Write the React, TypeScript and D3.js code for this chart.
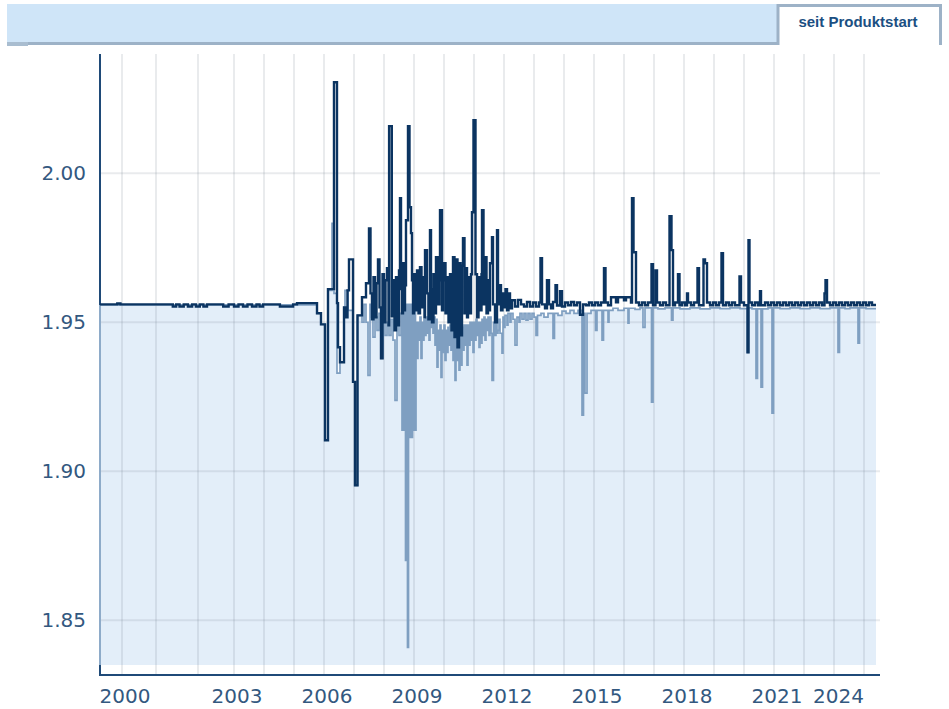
import React from 'react';
import * as d3 from 'd3';

// observations per calendar year (ordinal axis: equal spacing per observation)
// 1999 (from start), 2000 ... 2023, 2024 (until end)
const seriesStart = 1999.3;
const seriesEnd = 2024.4;
const obsPerYear = [
  187, 289, 357, 306,
  255, 255, 255, 255, 255, 255, 255, 255, 255, 255, 255,
  255, 255, 255, 255, 255, 255, 255, 255, 255, 255,
  102,
];

const yTicks = [1.85, 1.9, 1.95, 2.0];
const gridYears = [2000, 2001, 2002, 2003, 2004, 2005, 2006, 2007, 2008, 2009, 2010, 2011, 2012,
  2013, 2014, 2015, 2016, 2017, 2018, 2019, 2020, 2021, 2022, 2023, 2024];
const labelYears = [2000, 2003, 2006, 2009, 2012, 2015, 2018, 2021, 2024];

// upper (dark) series, [decimal year, value]
const upperSeries: [number, number][] = [
  [1999.3, 1.956], [1999.85, 1.9563], [1999.95, 1.956],
  [2001.4, 1.9553], [2001.48, 1.956], [2001.56, 1.9553], [2001.66, 1.956], [2001.76, 1.9553],
  [2001.86, 1.956], [2001.95, 1.9553], [2002.05, 1.956], [2002.15, 1.9553], [2002.25, 1.956],
  [2002.7, 1.9553], [2002.85, 1.956], [2003.0, 1.9553], [2003.15, 1.956], [2003.3, 1.9553],
  [2003.45, 1.956], [2003.6, 1.9553], [2003.75, 1.956], [2003.85, 1.9553], [2003.97, 1.956],
  [2004.53, 1.9553], [2004.97, 1.956], [2005.1, 1.9564],
  [2005.767, 1.953], [2005.9, 1.9493], [2006.033, 1.9104], [2006.133, 1.9611],
  [2006.333, 2.0305], [2006.433, 1.9564], [2006.467, 1.9416], [2006.533, 1.9366],
  [2006.667, 1.955], [2006.733, 1.9517], [2006.783, 1.9607], [2006.833, 1.9711],
  [2006.967, 1.93], [2007.033, 1.8953], [2007.117, 1.9523], [2007.267, 1.9584],
  [2007.4, 1.9631], [2007.5, 1.9815],
  [2007.55, 1.9597], [2007.6, 1.951], [2007.65, 1.9651], [2007.7, 1.9517], [2007.75, 1.9631],
  [2007.8, 1.9711], [2007.85, 1.955], [2007.9, 1.9379], [2007.95, 1.9661], [2008.0, 1.95],
  [2008.05, 1.9641], [2008.1, 1.9681], [2008.15, 1.949], [2008.17, 2.0158], [2008.26, 1.952],
  [2008.3, 1.9641], [2008.35, 1.9473], [2008.4, 1.9651], [2008.45, 1.949], [2008.5, 1.9674],
  [2008.533, 1.9916], [2008.567, 1.9611], [2008.6, 1.953], [2008.633, 1.9698], [2008.667, 1.954],
  [2008.7, 1.9624], [2008.733, 1.9842], [2008.8, 2.0158], [2008.85, 1.9886], [2008.9, 1.9799],
  [2008.933, 1.9641], [2008.967, 1.953], [2009.0, 1.9661], [2009.05, 1.954], [2009.1, 1.9674],
  [2009.15, 1.953], [2009.2, 1.9685], [2009.25, 1.955], [2009.3, 1.9651], [2009.35, 1.9517],
  [2009.367, 1.9742], [2009.433, 1.9597], [2009.48, 1.951], [2009.533, 1.9809], [2009.567, 1.9611],
  [2009.6, 1.95], [2009.65, 1.9661], [2009.7, 1.953], [2009.733, 1.9718], [2009.8, 1.956],
  [2009.85, 1.9641], [2009.867, 1.9876], [2009.933, 1.954], [2009.967, 1.9641], [2010.0, 1.9698],
  [2010.05, 1.953], [2010.1, 1.9651], [2010.15, 1.95], [2010.2, 1.9661], [2010.25, 1.9473],
  [2010.3, 1.9718], [2010.35, 1.945], [2010.4, 1.9711], [2010.45, 1.9416], [2010.5, 1.9698],
  [2010.55, 1.9456], [2010.6, 1.969], [2010.633, 1.9782], [2010.683, 1.953], [2010.717, 1.9681],
  [2010.767, 1.9517], [2010.8, 1.9651], [2010.85, 1.953], [2010.9, 1.9661], [2010.933, 1.9869],
  [2010.983, 2.0178], [2011.05, 1.9661], [2011.1, 1.9517], [2011.15, 1.9651], [2011.2, 1.954],
  [2011.25, 1.9661], [2011.267, 1.9876], [2011.317, 1.956], [2011.367, 1.9718], [2011.417, 1.953],
  [2011.467, 1.9641], [2011.5, 1.954], [2011.533, 1.9698], [2011.6, 1.9785], [2011.633, 1.956],
  [2011.7, 1.95], [2011.767, 1.9809], [2011.8, 1.956], [2011.85, 1.9624], [2011.9, 1.954],
  [2011.95, 1.9597], [2012.0, 1.955], [2012.05, 1.9611], [2012.1, 1.954], [2012.15, 1.9597],
  [2012.2, 1.9547], [2012.267, 1.9574], [2012.367, 1.9553], [2012.467, 1.9575], [2012.567, 1.956],
  [2012.667, 1.9553], [2012.767, 1.9568], [2012.867, 1.9553], [2012.967, 1.9566], [2013.067, 1.9553],
  [2013.167, 1.9566], [2013.217, 1.9715], [2013.267, 1.956], [2013.367, 1.9547], [2013.433, 1.9641],
  [2013.5, 1.956], [2013.567, 1.9547], [2013.633, 1.9568], [2013.717, 1.9624], [2013.767, 1.9556],
  [2013.867, 1.9604], [2013.933, 1.9553], [2014.033, 1.9566], [2014.133, 1.9557], [2014.233, 1.9568],
  [2014.333, 1.9557], [2014.433, 1.9566], [2014.533, 1.9525], [2014.633, 1.956], [2014.733, 1.9557],
  [2014.833, 1.9566], [2014.933, 1.9557], [2015.033, 1.9566], [2015.133, 1.9557], [2015.233, 1.9566],
  [2015.333, 1.9681], [2015.383, 1.9566], [2015.467, 1.9557], [2015.567, 1.9584], [2015.733, 1.9567],
  [2015.8, 1.9584], [2016.0, 1.9574], [2016.067, 1.9584], [2016.233, 1.9566], [2016.267, 1.9916],
  [2016.317, 1.9735], [2016.4, 1.9566], [2016.5, 1.9557], [2016.6, 1.9566], [2016.7, 1.9557],
  [2016.8, 1.9566], [2016.917, 1.9695], [2016.967, 1.9557], [2017.05, 1.9674], [2017.1, 1.9566],
  [2017.2, 1.9557], [2017.3, 1.9566], [2017.4, 1.9557], [2017.517, 1.9856], [2017.583, 1.9742],
  [2017.633, 1.9557], [2017.7, 1.9566], [2017.8, 1.9661], [2017.85, 1.9557], [2017.933, 1.9566],
  [2018.033, 1.9557], [2018.1, 1.9597], [2018.133, 1.9566], [2018.233, 1.9557], [2018.333, 1.9566],
  [2018.45, 1.9681], [2018.5, 1.9557], [2018.65, 1.9711], [2018.7, 1.9698], [2018.767, 1.9566],
  [2018.867, 1.9557], [2018.967, 1.9566], [2019.067, 1.9557], [2019.167, 1.9566], [2019.25, 1.9732],
  [2019.3, 1.9557], [2019.4, 1.9566], [2019.5, 1.9557], [2019.6, 1.9566], [2019.7, 1.9557],
  [2019.85, 1.9654], [2019.9, 1.9566], [2020.0, 1.9557], [2020.117, 1.9399], [2020.15, 1.9775],
  [2020.183, 1.9566], [2020.267, 1.9557], [2020.367, 1.9566], [2020.467, 1.9557], [2020.533, 1.9604],
  [2020.567, 1.9557], [2020.7, 1.9566], [2020.8, 1.9557], [2020.9, 1.9566], [2021.0, 1.9557],
  [2021.1, 1.9566], [2021.2, 1.9557], [2021.3, 1.9566], [2021.4, 1.9557], [2021.5, 1.9566],
  [2021.6, 1.9557], [2021.7, 1.9566], [2021.8, 1.9557], [2021.9, 1.9566], [2022.0, 1.9557],
  [2022.1, 1.9566], [2022.2, 1.9557], [2022.3, 1.9566], [2022.4, 1.9557], [2022.5, 1.9566],
  [2022.6, 1.9557], [2022.683, 1.9597], [2022.717, 1.9641], [2022.767, 1.9566], [2022.867, 1.9557],
  [2022.967, 1.9566], [2023.067, 1.9557], [2023.167, 1.9566], [2023.267, 1.9557], [2023.367, 1.9566],
  [2023.467, 1.9557], [2023.567, 1.9566], [2023.667, 1.9557], [2023.767, 1.9566], [2023.867, 1.9557],
  [2023.967, 1.9566], [2024.067, 1.9557], [2024.167, 1.9566], [2024.267, 1.9558], [2024.4, 1.9558],
];

// lower (light) series, [decimal year, value]
const lowerSeries: [number, number][] = [
  [1999.3, 1.9558], [2005.767, 1.953], [2005.9, 1.9493], [2006.033, 1.9104],
  [2006.133, 1.9607], [2006.267, 1.9832], [2006.333, 1.9597], [2006.433, 1.9329],
  [2006.533, 1.9366], [2006.667, 1.955], [2006.7, 1.9607], [2006.8, 1.954],
  [2006.967, 1.93], [2007.033, 1.8953], [2007.117, 1.9523], [2007.267, 1.95],
  [2007.333, 1.956], [2007.4, 1.95], [2007.467, 1.9322], [2007.533, 1.956], [2007.567, 1.9517],
  [2007.633, 1.945], [2007.7, 1.9517], [2007.767, 1.9473], [2007.833, 1.953], [2007.9, 1.9379],
  [2007.967, 1.95], [2008.033, 1.9456], [2008.1, 1.95], [2008.167, 1.9456], [2008.233, 1.951],
  [2008.3, 1.944], [2008.367, 1.9238], [2008.433, 1.95], [2008.5, 1.9456], [2008.567, 1.953],
  [2008.6, 1.9138], [2008.633, 1.956], [2008.667, 1.9138], [2008.7, 1.956], [2008.717, 1.8701],
  [2008.75, 1.956], [2008.783, 1.8409], [2008.817, 1.956], [2008.85, 1.9114], [2008.883, 1.956],
  [2008.917, 1.9114], [2008.95, 1.956], [2008.983, 1.9138], [2009.017, 1.956], [2009.05, 1.9138],
  [2009.067, 1.95], [2009.1, 1.9379], [2009.133, 1.95], [2009.167, 1.944], [2009.2, 1.9517],
  [2009.233, 1.9379], [2009.267, 1.95], [2009.3, 1.944], [2009.333, 1.951], [2009.367, 1.9456],
  [2009.4, 1.9517], [2009.433, 1.9463], [2009.467, 1.951], [2009.5, 1.944], [2009.533, 1.953],
  [2009.567, 1.9483], [2009.6, 1.953], [2009.633, 1.9463], [2009.667, 1.9517], [2009.7, 1.9423],
  [2009.733, 1.951], [2009.767, 1.9349], [2009.8, 1.9473], [2009.833, 1.9406], [2009.867, 1.949],
  [2009.9, 1.9315], [2009.933, 1.9473], [2009.967, 1.9399], [2010.0, 1.949], [2010.033, 1.9372],
  [2010.067, 1.9473], [2010.1, 1.9399], [2010.133, 1.9483], [2010.167, 1.9423], [2010.2, 1.949],
  [2010.233, 1.9406], [2010.267, 1.9483], [2010.3, 1.9372], [2010.333, 1.9473], [2010.367, 1.9305],
  [2010.4, 1.9463], [2010.433, 1.9372], [2010.467, 1.9483], [2010.5, 1.9339], [2010.533, 1.9473],
  [2010.567, 1.9356], [2010.6, 1.9483], [2010.633, 1.9406], [2010.667, 1.949], [2010.7, 1.9423],
  [2010.733, 1.949], [2010.767, 1.9356], [2010.8, 1.949], [2010.833, 1.9423], [2010.867, 1.95],
  [2010.9, 1.944], [2010.933, 1.95], [2010.967, 1.9399], [2011.0, 1.95], [2011.033, 1.944],
  [2011.067, 1.951], [2011.1, 1.9456], [2011.133, 1.95], [2011.167, 1.9416], [2011.2, 1.95],
  [2011.233, 1.943], [2011.267, 1.951], [2011.3, 1.9456], [2011.333, 1.9517], [2011.367, 1.944],
  [2011.4, 1.951], [2011.433, 1.9473], [2011.467, 1.9517], [2011.5, 1.9456], [2011.533, 1.9517],
  [2011.567, 1.9463], [2011.6, 1.9305], [2011.65, 1.95], [2011.7, 1.9456], [2011.733, 1.951],
  [2011.767, 1.9463], [2011.8, 1.9473], [2011.833, 1.951], [2011.867, 1.9463], [2011.933, 1.9396],
  [2011.967, 1.9517], [2012.0, 1.9483], [2012.033, 1.9523], [2012.1, 1.949], [2012.133, 1.953],
  [2012.2, 1.95], [2012.233, 1.953], [2012.3, 1.951], [2012.367, 1.9423], [2012.433, 1.9517],
  [2012.5, 1.95], [2012.533, 1.953], [2012.6, 1.951], [2012.667, 1.953], [2012.733, 1.9507],
  [2012.8, 1.953], [2012.867, 1.951], [2012.933, 1.953], [2013.0, 1.9517],
  [2013.067, 1.9456], [2013.117, 1.9523], [2013.233, 1.953], [2013.333, 1.9517], [2013.467, 1.953],
  [2013.633, 1.9446], [2013.683, 1.953], [2013.8, 1.9523], [2013.933, 1.9537], [2014.067, 1.953],
  [2014.2, 1.954], [2014.333, 1.953], [2014.467, 1.954], [2014.6, 1.9188], [2014.65, 1.953],
  [2014.7, 1.9262], [2014.767, 1.953], [2014.9, 1.954], [2015.05, 1.9473], [2015.1, 1.954],
  [2015.267, 1.944], [2015.317, 1.954], [2015.467, 1.95], [2015.5, 1.954], [2015.633, 1.9547],
  [2015.8, 1.954], [2016.0, 1.9547], [2016.133, 1.9497], [2016.167, 1.9547], [2016.367, 1.9543],
  [2016.533, 1.9548], [2016.633, 1.9483], [2016.7, 1.9548], [2016.917, 1.9232], [2016.967, 1.9548],
  [2017.133, 1.9545], [2017.367, 1.9548], [2017.583, 1.9507], [2017.633, 1.9548], [2017.867, 1.9545],
  [2018.2, 1.9548], [2018.533, 1.9545], [2018.867, 1.9548], [2019.2, 1.9546], [2019.533, 1.9548],
  [2019.867, 1.9546], [2020.117, 1.9399], [2020.15, 1.9548], [2020.267, 1.9545], [2020.4, 1.9312],
  [2020.45, 1.9545], [2020.567, 1.9282], [2020.617, 1.9545], [2020.8, 1.9548], [2020.933, 1.9195],
  [2020.983, 1.9548], [2021.2, 1.9546], [2021.533, 1.9548], [2021.867, 1.9546], [2022.2, 1.9548],
  [2022.533, 1.9546], [2022.867, 1.9548], [2023.133, 1.9399], [2023.183, 1.9548], [2023.367, 1.9546],
  [2023.533, 1.9548], [2023.8, 1.943], [2023.85, 1.9548], [2024.067, 1.9546], [2024.4, 1.9546],
];

const App = () => {
  const width = 949;
  const height = 709;
  const plot = { left: 100, right: 876, top: 54, base: 665, axis: 675, gridRight: 880 };
  const yMin = 1.835;
  const yMax = 2.04;

  // polylinear scale: each observation gets the same width
  const bounds = [seriesStart, ...gridYears, seriesEnd];
  let acc = 0;
  const cum = [0, ...obsPerYear.map(n => (acc += n))];
  const x = d3.scaleLinear()
    .domain(bounds)
    .range(cum.map(c => plot.left + (c / acc) * (plot.right - plot.left)));

  const y = d3.scaleLinear().domain([yMin, yMax]).range([plot.base, plot.top]);

  const line = d3.line<[number, number]>()
    .x(d => x(d[0]))
    .y(d => y(d[1]))
    .curve(d3.curveStepAfter);

  const area = d3.area<[number, number]>()
    .x(d => x(d[0]))
    .y0(y(yMin))
    .y1(d => y(d[1]))
    .curve(d3.curveStepAfter);

  const navy = '#0b3461';
  const axisCol = '#1f4a78';
  const labelCol = '#33587f';
  const gridCol = 'rgba(110,120,135,0.15)';
  const font = '"DejaVu Sans", Verdana, sans-serif';

  return (
    <div style={{ position: 'absolute', left: 0, top: 0 }}>
      <svg width={width} height={height} style={{ display: 'block', background: '#fff' }}>
        {/* top bar with tab */}
        <rect x={7} y={4} width={770} height={38} fill="#cfe5f8" />
        <rect x={7} y={42} width={770} height={3} fill="#9db2c7" />
        <rect x={7} y={42} width={21} height={4} fill="#a9bdd0" />
        <path d="M778,45 V5.5 H940.5 V45" fill="#fff" stroke="#9db2c7" strokeWidth={3} />
        <text x={858} y={27} textAnchor="middle" fontFamily='"Liberation Sans", Arial, sans-serif'
          fontWeight="bold" fontSize={15} fill="#1b4f82">seit Produktstart</text>

        {/* axes */}
        <line x1={plot.left} x2={plot.left} y1={plot.top} y2={plot.axis + 1} stroke={axisCol} strokeWidth={2} />
        <line x1={plot.left - 1} x2={plot.gridRight} y1={plot.axis} y2={plot.axis} stroke={axisCol} strokeWidth={2} />

        {/* area under the lower series */}
        <path d={area(lowerSeries) || ''} fill="#e3eef9" />

        {/* grid */}
        {gridYears.map(yr => (
          <line key={'gx' + yr} x1={x(yr)} x2={x(yr)} y1={plot.top} y2={plot.axis - 1}
            stroke={gridCol} strokeWidth={2} />
        ))}
        {yTicks.map(t => (
          <line key={'gy' + t} x1={plot.left + 1} x2={plot.gridRight} y1={y(t)} y2={y(t)}
            stroke={gridCol} strokeWidth={2} />
        ))}

        {/* left edge of the area */}
        <line x1={plot.left} x2={plot.left} y1={y(lowerSeries[0][1])} y2={plot.base}
          stroke="#8eabc9" strokeWidth={2} />

        {/* series */}
        <path d={line(lowerSeries) || ''} fill="none" stroke="#7f9fc1" strokeWidth={1.7} />
        <path d={line(upperSeries) || ''} fill="none" stroke={navy} strokeWidth={2.4} />

        {/* y labels */}
        {yTicks.map(t => (
          <text key={'ly' + t} x={86} y={y(t)} dy="0.36em" textAnchor="end"
            fontFamily={font} fontSize={20} fill={labelCol}>{t.toFixed(2)}</text>
        ))}

        {/* x labels */}
        {labelYears.map((yr, i) => {
          const last = i === labelYears.length - 1;
          return (
            <text key={'lx' + yr} x={last ? x(yr) : x(yr) + 3} y={703}
              textAnchor={last ? 'end' : 'middle'}
              fontFamily={font} fontSize={20} fill={labelCol}>{yr}</text>
          );
        })}
      </svg>
    </div>
  );
};

export default App;
